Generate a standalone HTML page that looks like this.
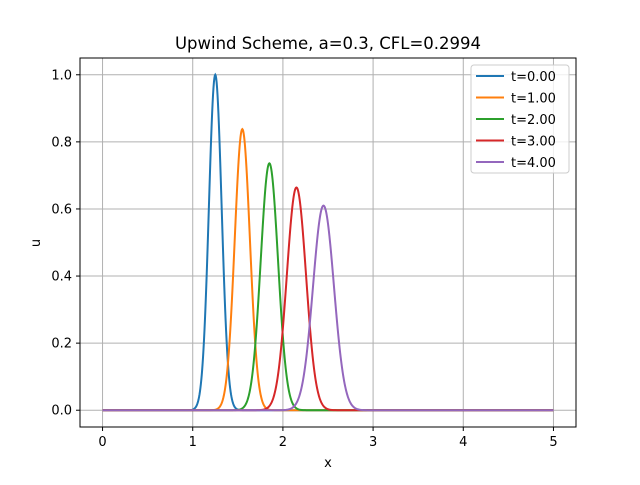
<!DOCTYPE html>
<html><head><meta charset="utf-8"><style>
body{margin:0;background:#fff}
svg{font-family:"DejaVu Sans","Liberation Sans",sans-serif}
</style></head><body>
<svg id="chart" width="640" height="480" xmlns="http://www.w3.org/2000/svg">
<rect width="640" height="480" fill="#fff"/>
<text x="328" y="49" font-size="16.5" text-anchor="middle">Upwind Scheme, a=0.3, CFL=0.2994</text>
<g id="grid"></g><g id="ticks"></g><g id="series"></g>
<rect x="80" y="58" width="496" height="369" fill="none" stroke="#000" stroke-width="1"/>
<text x="328" y="467" font-size="13" text-anchor="middle">x</text>
<text transform="translate(40,243) rotate(-90)" font-size="13" text-anchor="middle">u</text>
<g id="legend"></g>
</svg>
<script>
const labels=["t=0.00","t=1.00","t=2.00","t=3.00","t=4.00"];
const centers=[1.25,1.55,1.85,2.15,2.45];
const peaks=[1.0,0.838,0.736,0.664,0.61];
const colors=["#1f77b4","#ff7f0e","#2ca02c","#d62728","#9467bd"];
const xTicks=[0,1,2,3,4,5];
const yTicks=[0,0.2,0.4,0.6,0.8,1.0];
const NS="http://www.w3.org/2000/svg";
const X=v=>80+(v+0.25)/5.5*496;
const Y=v=>427-(v+0.05)/1.1*369;
function mk(t,a,p){const e=document.createElementNS(NS,t);for(const k in a)e.setAttribute(k,a[k]);p.appendChild(e);return e;}
const g=document.getElementById('grid'),tk=document.getElementById('ticks'),sr=document.getElementById('series'),lg=document.getElementById('legend');
xTicks.forEach(v=>{
 const l=mk('line',{x1:X(v),x2:X(v),y1:58,y2:427,stroke:'#b0b0b0','stroke-width':1},g);
 
 
 mk('line',{x1:X(v),x2:X(v),y1:427,y2:431,stroke:'#000','stroke-width':1},tk);
 const t=mk('text',{x:X(v),y:446,'font-size':13,'text-anchor':'middle'},tk);t.textContent=v;
 
 
});
yTicks.forEach(v=>{
 const l=mk('line',{x1:80,x2:576,y1:Y(v),y2:Y(v),stroke:'#b0b0b0','stroke-width':1},g);
 
 
 mk('line',{x1:76,x2:80,y1:Y(v),y2:Y(v),stroke:'#000','stroke-width':1},tk);
 const t=mk('text',{x:72,y:Y(v)+4.5,'font-size':13,'text-anchor':'end'},tk);t.textContent=v.toFixed(1);
 
 
});
labels.forEach((lab,i)=>{
 const s=0.1/peaks[i];let d='';
 for(let k=0;k<=1000;k++){const x=k*0.005;const u=peaks[i]*Math.exp(-Math.pow((x-centers[i])/s,2));d+=(k?'L':'M')+X(x).toFixed(2)+','+Y(u).toFixed(2);}
 const p=mk('path',{d:d,fill:'none',stroke:colors[i],'stroke-width':2},sr);
 
 
});
const box=mk('rect',{x:471,y:65,width:98,height:108,rx:3,fill:'#fff','fill-opacity':0.8,stroke:'#ccc','stroke-width':1},lg);


labels.forEach((lab,i)=>{
 const y=76+i*21.5;
 mk('line',{x1:476,x2:504,y1:y,y2:y,stroke:colors[i],'stroke-width':2},lg);
 const t=mk('text',{x:511,y:y+5,'font-size':13},lg);t.textContent=lab;
 
 
});
</script>
</body></html>
